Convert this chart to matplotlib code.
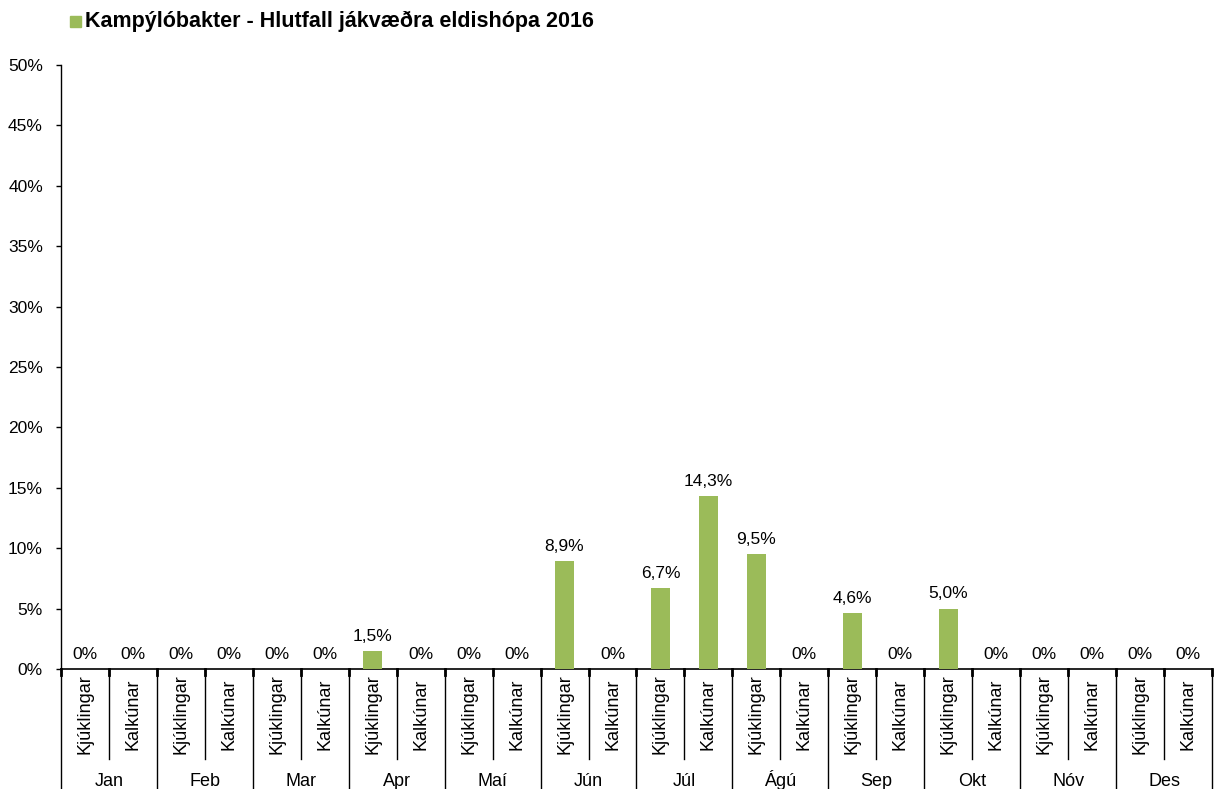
import numpy as np
import matplotlib.pyplot as plt
import matplotlib.transforms as mtransforms
from matplotlib.patches import Rectangle

plt.rcParams['font.family'] = ['Liberation Sans', 'DejaVu Sans']

months = ['Jan', 'Feb', 'Mar', 'Apr', 'Maí', 'Jún', 'Júl', 'Ágú', 'Sep', 'Okt', 'Nóv', 'Des']
kinds = ['Kjúklingar', 'Kalkúnar']
kjuklingar = [0, 0, 0, 1.5, 0, 8.9, 6.7, 9.5, 4.6, 5.0, 0, 0]
kalkunar = [0, 0, 0, 0, 0, 0, 14.3, 0, 0, 0, 0, 0]
yticks = [0, 5, 10, 15, 20, 25, 30, 35, 40, 45, 50]
title = 'Kampýlóbakter - Hlutfall jákvæðra eldishópa 2016'

values = []
for a, b in zip(kjuklingar, kalkunar):
    values += [a, b]
n = len(values)
x = np.arange(n)
green = '#9BBB59'

fig = plt.figure(figsize=(12.18, 7.89), dpi=100)
ax = fig.add_axes([61 / 1218, 1 - 669 / 789, (1212 - 61) / 1218, (669 - 65) / 789])

ax.bar(x, values, width=0.4, color=green, zorder=3)

def fmt(v):
    if v == 0:
        return '0%'
    return ('%.1f%%' % v).replace('.', ',')

for xi, v in zip(x, values):
    ax.text(xi, v + 0.85, fmt(v), ha='center', va='baseline', fontsize=12.5)

ax.set_xlim(-0.5, n - 0.5)
ax.set_ylim(0, 50)
ax.set_yticks(yticks)
ax.set_yticklabels(['%d%%' % t for t in yticks], fontsize=12.5)
ax.tick_params(axis='y', direction='out', length=3.5, width=1, pad=9.5)
ax.set_xticks([])

for side in ['top', 'right']:
    ax.spines[side].set_visible(False)
ax.spines['left'].set_linewidth(1)
ax.spines['bottom'].set_linewidth(1.2)

trans = mtransforms.blended_transform_factory(ax.transData, ax.transAxes)
for i in range(n + 1):
    xb = i - 0.5
    low = -0.23 if i % 2 == 0 else -0.149
    ax.plot([xb, xb], [0, low], color='black', lw=1, transform=trans, clip_on=False)
    ax.plot([xb, xb], [0, -0.01], color='black', lw=2, transform=trans, clip_on=False)

for xi in x:
    ax.text(xi, -0.075, kinds[xi % 2], rotation=90, ha='center', va='center',
            fontsize=13, transform=trans)

# month names share one baseline so accented ones (Ágú) line up with the rest
for m, name in enumerate(months):
    ax.text(2 * m + 0.5, -0.194, name, ha='center', va='baseline', fontsize=13, transform=trans)

fig.patches.append(Rectangle((70 / 1218, 1 - 27 / 789), 11 / 1218, 11 / 789,
                             transform=fig.transFigure, color=green))
fig.text(85 / 1218, 1 - 21 / 789, title, fontsize=15.5, fontweight='bold', va='center', ha='left')

fig.savefig('out.png', dpi=100)
